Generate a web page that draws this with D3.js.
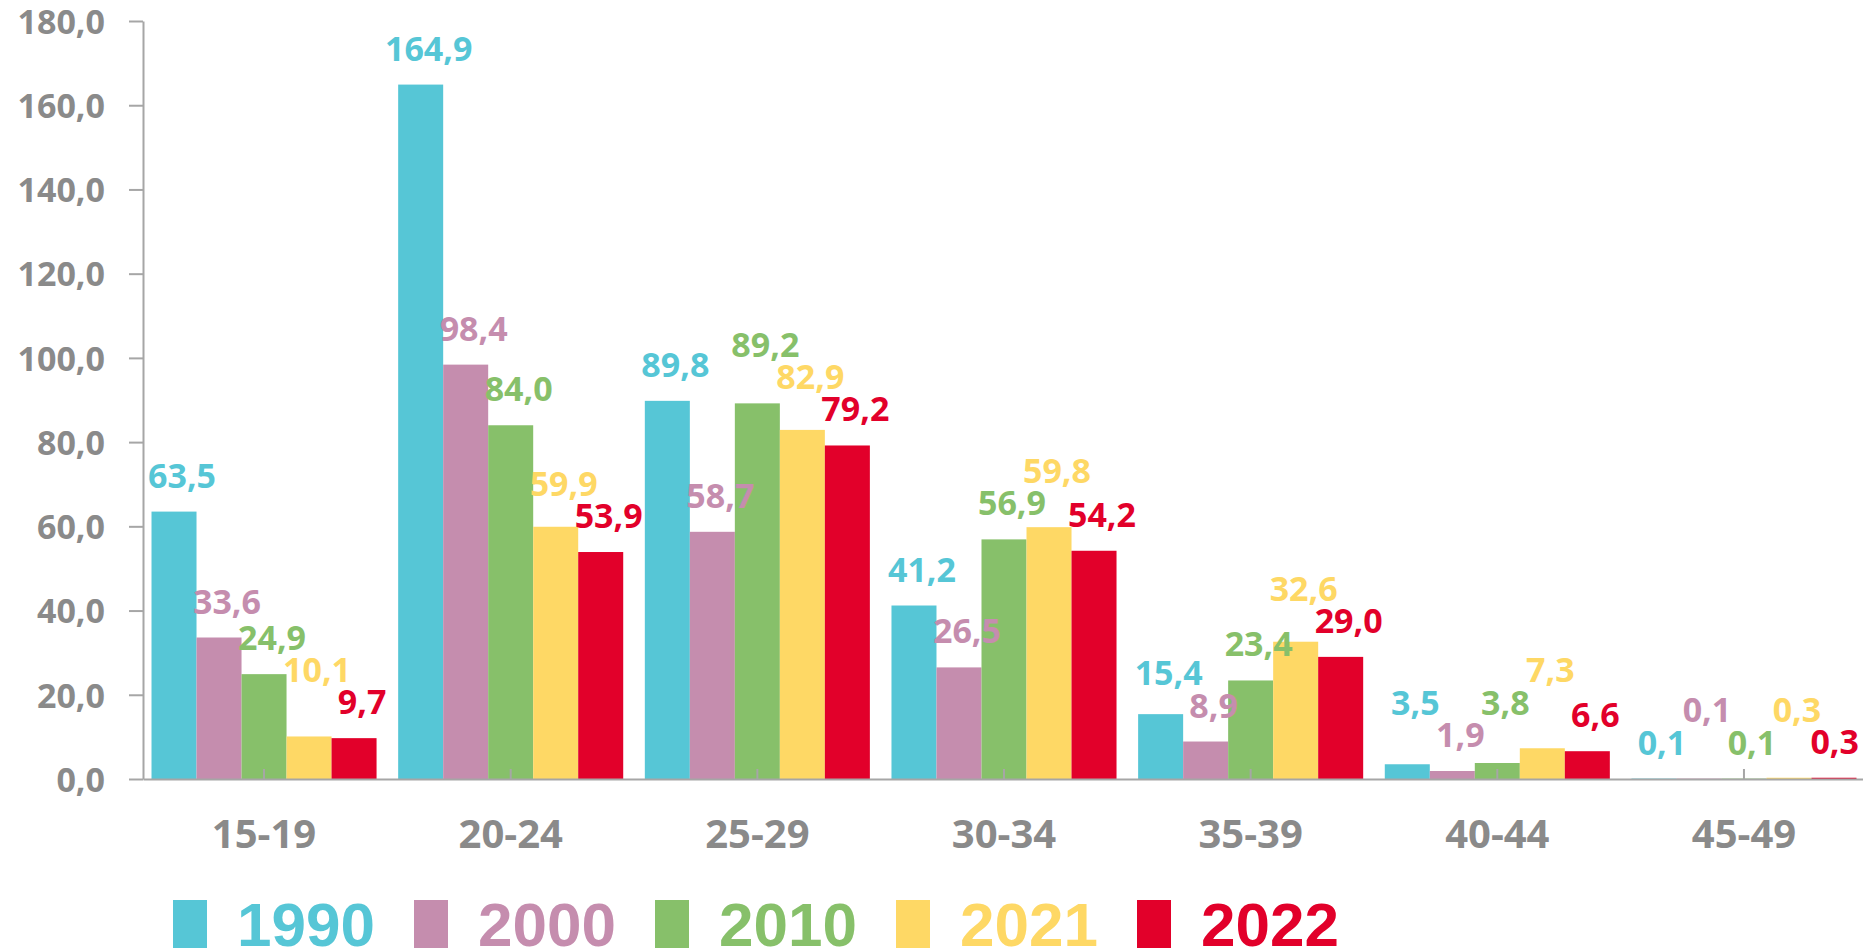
<!DOCTYPE html>
<html>
<head>
<meta charset="utf-8">
<script src="https://cdn.jsdelivr.net/npm/d3@7"></script>
<style>
  body { margin: 0; background: #fff; }
</style>
</head>
<body>
<div id="chart"></div>
<script>
const ageGroups = ["15-19", "20-24", "25-29", "30-34", "35-39", "40-44", "45-49"];
const years = ["1990", "2000", "2010", "2021", "2022"];

const v1990 = [63.5, 164.9, 89.8, 41.2, 15.4, 3.5, 0.1];
const v2000 = [33.6, 98.4, 58.7, 26.5, 8.9, 1.9, 0.1];
const v2010 = [24.9, 84.0, 89.2, 56.9, 23.4, 3.8, 0.1];
const v2021 = [10.1, 59.9, 82.9, 59.8, 32.6, 7.3, 0.3];
const v2022 = [9.7, 53.9, 79.2, 54.2, 29.0, 6.6, 0.3];

const yTicks = [0, 20, 40, 60, 80, 100, 120, 140, 160, 180];

const seriesValues = [v1990, v2000, v2010, v2021, v2022];

const width = 1863, height = 950;
const margin = { top: 21, left: 143, bottom: 171 };

const color = d3.scaleOrdinal()
  .domain(years)
  .range(["#56c6d6", "#c58dae", "#87c06a", "#fed865", "#e2002a"]);

// comma as decimal separator
const locale = d3.formatLocale({ decimal: ",", thousands: ".", grouping: [3], currency: ["", ""] });
const fmt = locale.format(".1f");

const rows = ageGroups.map((g, i) => {
  const row = { group: g };
  years.forEach((y, j) => { row[y] = seriesValues[j][i]; });
  return row;
});

const svg = d3.select("#chart")
  .append("svg")
  .attr("width", width)
  .attr("height", height)
  .style("background", "#fff");

const x = d3.scaleBand()
  .domain(ageGroups)
  .range([margin.left, 1865])
  .paddingInner(0.0876)
  .paddingOuter(0.0345);

const xs = d3.scaleBand()
  .domain(years)
  .range([0, x.bandwidth()]);

const y = d3.scaleLinear()
  .domain([0, 180])
  .range([height - margin.bottom, margin.top]);

const axisColor = "#a6a6a6";
const textGray = "#8a8a8a";
const labelSize = 34;

// bars
const groups = svg.append("g")
  .selectAll("g")
  .data(rows)
  .join("g")
  .attr("transform", d => `translate(${x(d.group)},0)`);

groups.selectAll("rect")
  .data(d => years.map(k => ({ key: k, value: d[k] })))
  .join("rect")
  .attr("x", d => xs(d.key))
  .attr("y", d => y(d.value))
  .attr("width", xs.bandwidth())
  .attr("height", d => y(0) - y(d.value))
  .attr("fill", d => color(d.key));

// y axis
const yAxis = svg.append("g")
  .attr("transform", `translate(${margin.left},0)`)
  .call(d3.axisLeft(y).tickValues(yTicks).tickFormat(locale.format(".1f"))
    .tickSizeInner(14).tickSizeOuter(0).tickPadding(24));

yAxis.select(".domain").attr("stroke", axisColor).attr("stroke-width", 2);
yAxis.selectAll(".tick line").attr("stroke", axisColor).attr("stroke-width", 2);
yAxis.selectAll(".tick text")
  .attr("fill", textGray)
  .attr("dy", "0.36em")
  .style("font-family", "'Open Sans', sans-serif")
  .style("font-weight", "700")
  .style("font-size", "34px");

// x axis
const xAxis = svg.append("g")
  .attr("transform", `translate(0,${y(0)})`)
  .call(d3.axisBottom(x).tickSizeInner(-10).tickSizeOuter(0));

xAxis.select(".domain").attr("stroke", axisColor).attr("stroke-width", 2);
xAxis.selectAll(".tick line").attr("stroke", axisColor).attr("stroke-width", 2);
xAxis.selectAll(".tick text")
  .attr("y", 69)
  .attr("dy", 0)
  .attr("fill", textGray)
  .style("font-family", "'Open Sans', sans-serif")
  .style("font-weight", "700")
  .style("font-size", "40px");

// value labels; when two collide, the one on the taller bar moves up
groups.each(function (row) {
  const items = years.map(k => ({ key: k, value: row[k] }));
  const gx = x(row.group);
  const texts = d3.select(this).selectAll("text.value")
    .data(items)
    .join("text")
    .attr("class", "value")
    .attr("text-anchor", "middle")
    .attr("fill", d => color(d.key))
    .style("font-family", "'Open Sans', sans-serif")
    .style("font-weight", "700")
    .style("font-size", labelSize + "px")
    .text(d => fmt(d.value));

  const w = texts.nodes().map(n => n.getComputedTextLength());
  const cx = items.map((d, i) =>
    Math.min(xs(d.key) + xs.bandwidth() / 2 + 8, width - gx - w[i] / 2 - 4));
  const base = items.map(d => y(d.value) - 24);
  const sep = labelSize * 0.95;

  for (let pass = 0; pass < 10; pass++) {
    let moved = false;
    for (let i = 1; i < items.length; i++) {
      for (let a = 0; a < i; a++) {
        const hOverlap = (cx[a] + w[a] / 2) > (cx[i] - w[i] / 2);
        const vOverlap = Math.abs(base[a] - base[i]) < sep - 1;
        if (hOverlap && vOverlap) {
          if (items[a].value > items[i].value) base[a] = base[i] - sep;
          else base[i] = base[a] - sep;
          moved = true;
        }
      }
    }
    if (!moved) break;
  }
  texts.attr("x", (d, i) => cx[i]).attr("y", (d, i) => base[i]);
});

// legend
const legend = svg.append("g")
  .attr("transform", "translate(173,900)");

years.forEach((yr, i) => {
  const item = legend.append("g")
    .attr("transform", `translate(${i * 241},0)`);

  item.append("rect")
    .attr("width", 34)
    .attr("height", 48)
    .attr("fill", color(yr));

  item.append("text")
    .attr("x", 64)
    .attr("y", 46)
    .attr("fill", color(yr))
    .style("font-family", "'Liberation Sans', Arial, sans-serif")
    .style("font-weight", "700")
    .style("font-size", "62px")
    .text(yr);
});
</script>
</body>
</html>
